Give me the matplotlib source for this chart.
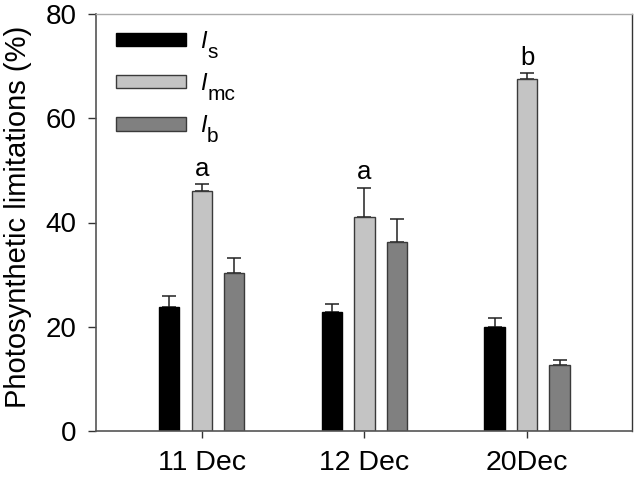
import matplotlib
matplotlib.use("Agg")
import matplotlib.pyplot as plt
import numpy as np

plt.rcParams['font.family'] = ['Liberation Sans', 'DejaVu Sans']

categories = ['11 Dec', '12 Dec', '20Dec']
series_main = ['I', 'I', 'I']
series_sub = ['s', 'mc', 'b']
ls_vals = [23.8, 22.9, 19.9]
ls_err = [2.1, 1.5, 1.7]
lmc_vals = [46.0, 41.0, 67.6]
lmc_err = [1.3, 5.7, 1.0]
lb_vals = [30.4, 36.2, 12.7]
lb_err = [2.7, 4.4, 1.0]
letters = ['a', 'a', 'b']
yticks = [0, 20, 40, 60, 80]

values = [ls_vals, lmc_vals, lb_vals]
errors = [ls_err, lmc_err, lb_err]
colors = ['#000000', '#c4c4c4', '#808080']
edges = ['#000000', '#3a3a3a', '#3a3a3a']

fig = plt.figure(figsize=(6.38, 4.79), dpi=100)
ax = fig.add_axes([96/638, 1-431/479, (632-96)/638, (431-14)/479])

x = np.arange(len(categories))
width = 0.125
offsets = [-0.2, 0.0, 0.2]
for vals, errs, c, ec, off, lab in zip(values, errors, colors, edges, offsets, series_main):
    ax.bar(x + off, vals, width, color=c, edgecolor=ec, linewidth=1.0, label=lab, zorder=2)
    ax.errorbar(x + off, vals, yerr=[np.zeros(len(errs)), errs], fmt='none',
                ecolor='#222222', elinewidth=1.1, capsize=5, capthick=1.1, zorder=1)

for xi, v, e, t in zip(x, lmc_vals, lmc_err, letters):
    ax.text(xi, v + e + 0.6, t, ha='center', va='bottom', fontsize=18.5)

ax.set_xlim(-0.65, 2.645)
ax.set_ylim(0, 80)
ax.set_yticks(yticks)
ax.set_xticks(x)
ax.set_xticklabels(categories)
ax.tick_params(axis='y', labelsize=20, length=6, width=1, direction='out', colors='#333333',
               labelcolor='black', pad=8)
ax.tick_params(axis='x', labelsize=20.5, length=5, width=1, direction='out', colors='#333333',
               labelcolor='black', pad=9)
ax.set_ylabel('Photosynthetic limitations (%)', fontsize=21)
ax.yaxis.set_label_coords(-0.119, 0.513)

for s in ['left', 'bottom']:
    ax.spines[s].set_color('#555555')
    ax.spines[s].set_linewidth(1.2)
ax.spines['top'].set_color('#aaaaaa')
ax.spines['top'].set_linewidth(1.0)
ax.spines['right'].set_color('#333333')
ax.spines['right'].set_linewidth(1.0)

leg = ax.legend(loc='upper left', bbox_to_anchor=(0.02, 0.985), frameon=False,
                prop={'family': 'Liberation Sans', 'style': 'italic', 'size': 17},
                handlelength=2.95, handleheight=0.5, labelspacing=0.82,
                handletextpad=0.6, borderaxespad=0)

fig.canvas.draw()
renderer = fig.canvas.get_renderer()
W, H = fig.bbox.width, fig.bbox.height
for t, sub in zip(leg.get_texts(), series_sub):
    bb = t.get_window_extent(renderer)
    fig.text((bb.x1 + 0.5) / W, (bb.y0 - 5) / H, sub, fontsize=15, ha='left', va='baseline')

fig.savefig('out.png', dpi=100)
